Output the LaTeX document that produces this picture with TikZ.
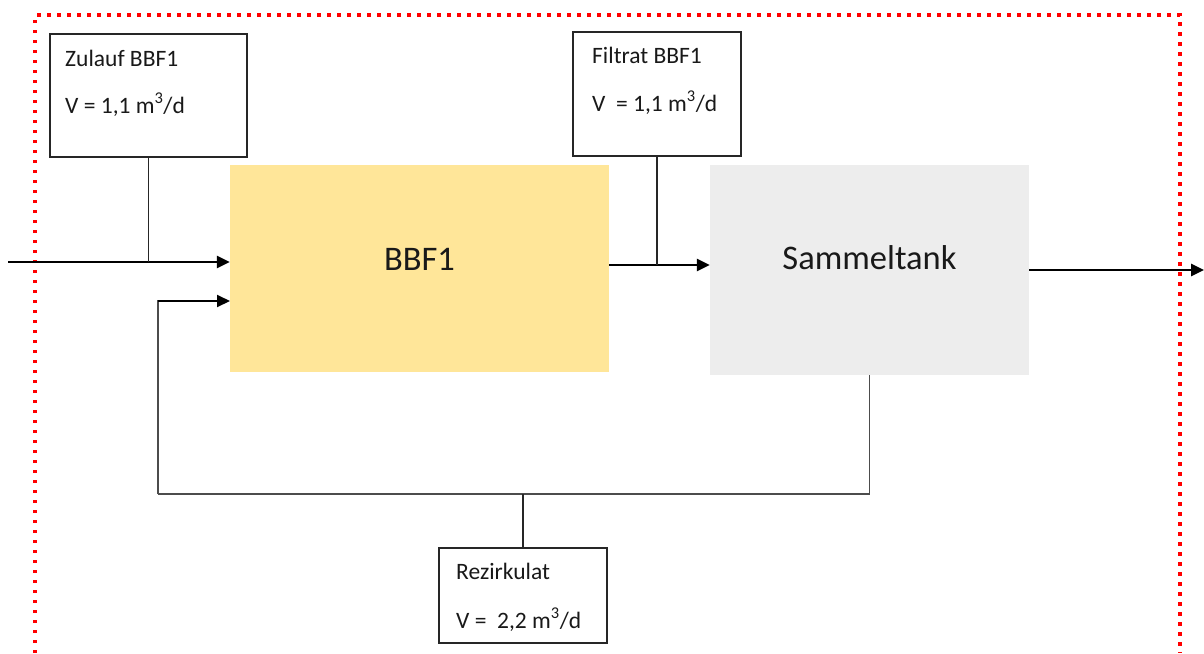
\documentclass[tikz,border=0pt]{standalone}
\usepackage{fontspec}
\setmainfont{Carlito}
\usetikzlibrary{arrows.meta}
\definecolor{bbfyellow}{HTML}{FFE699}
\definecolor{tankgray}{HTML}{EDEDED}
\definecolor{borderred}{HTML}{FF0000}
\tikzset{
  infobox/.style={draw=black!85, line width=1.2pt, fill=white, inner sep=0pt},
  infotext/.style={anchor=base west, inner sep=0pt, font=\fontsize{23.5}{28}\selectfont, text=black!90},
  unitbox/.style={inner sep=0pt, draw=none},
  bigfont/.style={font=\fontsize{34.5}{41}\selectfont, text=black!90},
  mainflow/.style={line width=2.6pt, -{Triangle[length=13pt,width=12pt]}},
  tapline/.style={line width=1.2pt, draw=black!85},
  recirc/.style={line width=1.7pt, draw=black!70},
  recircarrow/.style={line width=2pt, draw=black, -{Triangle[length=13pt,width=12pt]}},
  systemborder/.style={draw=borderred, line width=3.5pt, dash pattern=on 3.5pt off 6.5pt}
}
\begin{document}
\begin{tikzpicture}[x=1pt,y=-1pt]
\useasboundingbox (0,0) rectangle (1204,653);
% system border
\draw[systemborder] (35,653) -- (35,15) -- (1180,15) -- (1180,653);

% process boxes
\node[unitbox, fill=bbfyellow, minimum width=379pt, minimum height=207pt,
  label={[bigfont, yshift=9pt]center:BBF1}] (BBF1) at (419.5,268.5) {};
\node[unitbox, fill=tankgray, minimum width=319pt, minimum height=210pt,
  label={[bigfont, yshift=12pt]center:Sammeltank}] (tank) at (869.5,270) {};

% info boxes
\node[infobox, minimum width=197pt, minimum height=123pt] (zulauf) at (148.5,95.5) {};
\node[infotext] (zulaufA) at (65,66) {Zulauf BBF1};
\node[infotext] (zulaufB) at (65,113) {V = 1,1 m\textsuperscript{3}/d};

\node[infobox, minimum width=168pt, minimum height=124pt] (filtrat) at (657,94) {};
\node[infotext] (filtratA) at (592,63) {Filtrat BBF1};
\node[infotext] (filtratB) at (592,111) {V \ = 1,1 m\textsuperscript{3}/d};

\node[infobox, minimum width=168pt, minimum height=95pt] (rezi) at (523,595.5) {};
\node[infotext] (reziA) at (456,579) {Rezirkulat};
\node[infotext] (reziB) at (456,628) {V = \ 2,2 m\textsuperscript{3}/d};

% coordinates
\coordinate (inflow) at (8,262);
\coordinate (outflow) at (1204,270);
\coordinate (rcorner) at (158,494);
\coordinate (rentry) at (230,301);
\coordinate (mid) at (609,265);

% main flow
\draw[mainflow] (inflow) -- (inflow -| BBF1.west);
\draw[mainflow] (mid) -- (mid -| tank.west);
\draw[mainflow] (tank.east |- outflow) -- (outflow);

% taps to info boxes
\draw[tapline] (zulauf.south) -- (zulauf.south |- inflow);
\draw[tapline] (filtrat.south) -- (filtrat.south |- mid);

% recirculation
\draw[recirc] (tank.south) |- (rcorner);
\draw[recirc] (rcorner) |- ([xshift=-12pt]rentry);
\draw[recircarrow] (rentry -| rcorner) -- (rentry);
\draw[tapline] (rezi.north) -- (rezi.north |- rcorner);
\end{tikzpicture}
\end{document}
